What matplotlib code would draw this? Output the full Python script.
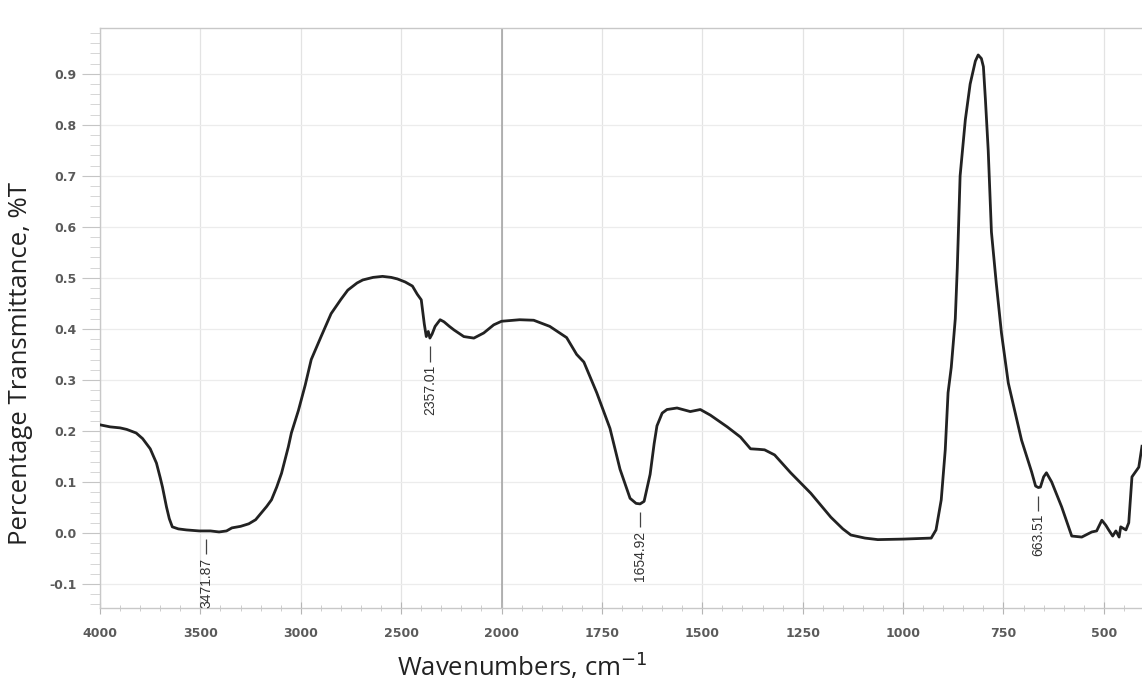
import numpy as np
import matplotlib
matplotlib.use("Agg")
import matplotlib.pyplot as plt

# FTIR spectrum (wavenumber in cm^-1, transmittance)
wavenumber = [4000, 3950, 3900, 3867, 3820, 3788, 3750, 3719, 3700, 3689, 3669, 3655, 3640,
              3610, 3570, 3506, 3450, 3407, 3370, 3343, 3300, 3259, 3225, 3195, 3170, 3146,
              3120, 3096, 3062, 3047, 3012, 2978, 2948, 2899, 2849, 2800, 2766, 2720, 2691,
              2640, 2593, 2550, 2519, 2480, 2444, 2420, 2400, 2385, 2375, 2365, 2357, 2346,
              2331, 2306, 2287, 2260, 2237, 2188, 2138, 2089, 2039, 2000, 1955, 1920, 1880,
              1838, 1813, 1795, 1763, 1730, 1705, 1680, 1665, 1655, 1645, 1630, 1620, 1613,
              1600, 1588, 1563, 1530, 1505, 1480, 1438, 1405, 1380, 1360, 1345, 1320, 1280,
              1230, 1180, 1150, 1130, 1095, 1063, 1000, 930, 918, 905, 895, 888, 880, 870,
              865, 858, 845, 833, 820, 813, 805, 800, 795, 788, 780, 768, 755, 738, 705, 680,
              670, 663, 658, 650, 643, 630, 605, 580, 555, 540, 530, 518, 505, 495, 488, 478,
              470, 462, 458, 445, 438, 430, 413, 405]
transmittance = [0.212, 0.208, 0.206, 0.203, 0.196, 0.185, 0.165, 0.137, 0.108, 0.090, 0.051,
                 0.028, 0.012, 0.008, 0.006, 0.004, 0.004, 0.002, 0.004, 0.010, 0.013, 0.018,
                 0.026, 0.040, 0.052, 0.065, 0.090, 0.117, 0.169, 0.196, 0.240, 0.290, 0.340,
                 0.385, 0.430, 0.458, 0.476, 0.490, 0.496, 0.501, 0.503, 0.501, 0.498, 0.492,
                 0.484, 0.468, 0.457, 0.410, 0.385, 0.395, 0.382, 0.390, 0.405, 0.418, 0.414,
                 0.405, 0.398, 0.385, 0.382, 0.392, 0.408, 0.415, 0.418, 0.417, 0.405, 0.383,
                 0.350, 0.335, 0.275, 0.205, 0.125, 0.068, 0.058, 0.057, 0.062, 0.115, 0.175,
                 0.210, 0.235, 0.242, 0.245, 0.238, 0.242, 0.231, 0.208, 0.188, 0.165, 0.164,
                 0.163, 0.153, 0.118, 0.078, 0.031, 0.008, -0.004, -0.010, -0.013, -0.012,
                 -0.010, 0.006, 0.065, 0.163, 0.275, 0.325, 0.420, 0.520, 0.700, 0.810, 0.880,
                 0.925, 0.937, 0.930, 0.914, 0.850, 0.750, 0.590, 0.490, 0.392, 0.294, 0.182,
                 0.120, 0.092, 0.089, 0.090, 0.110, 0.118, 0.100, 0.051, -0.006, -0.008,
                 -0.002, 0.002, 0.004, 0.025, 0.015, 0.006, -0.006, 0.004, -0.008, 0.012,
                 0.006, 0.020, 0.110, 0.129, 0.170]

peak_labels = [3471.87, 2357.01, 1654.92, 663.51]

x_major = [4000, 3500, 3000, 2500, 2000, 1750, 1500, 1250, 1000, 750, 500]
y_major = [-0.1, 0.0, 0.1, 0.2, 0.3, 0.4, 0.5, 0.6, 0.7, 0.8, 0.9]


# Wavenumber axis: compressed above 2000 cm^-1, doubled resolution below
def fwd(x):
    x = np.asarray(x, dtype=float)
    return np.where(x >= 2000, x, 2000 + (x - 2000) * 2.0)


def inv(u):
    u = np.asarray(u, dtype=float)
    return np.where(u >= 2000, u, 2000 + (u - 2000) / 2.0)


fig = plt.figure(figsize=(11.42, 6.93), dpi=100)
ax = fig.add_axes([0.0876, 0.1227, 0.9124, 0.837])
ax.set_xscale("function", functions=(fwd, inv))
ax.set_xlim(4000, 405)
ax.set_ylim(-0.147, 0.99)

# grid
for v in x_major:
    ax.axvline(v, color="#e3e3e3", lw=0.9, zorder=0)
ax.axvline(2000, color="#a0a0a0", lw=1.1, zorder=0.5)
for v in y_major:
    ax.axhline(v, color="#ececec", lw=0.9, zorder=0)

ax.plot(wavenumber, transmittance, color="#222222", lw=2.0, zorder=3)

wn_arr = np.array(wavenumber[::-1])
t_arr = np.array(transmittance[::-1])
for wn in peak_labels:
    yc = np.interp(wn, wn_arr, t_arr)
    ax.vlines(wn, yc - 0.016, yc - 0.046, color="#444444", lw=0.9, zorder=3)
    ax.text(wn, yc - 0.052, f"{wn:.2f}", rotation=90, ha="center", va="top",
            fontsize=10, family=["Liberation Sans Narrow", "Liberation Sans"],
            fontstretch="condensed", color="#333333", zorder=4)

ax.set_xticks(x_major)
ax.set_xticklabels([str(v) for v in x_major])
x_minor = [v for v in range(4000, 2000, -100) if v % 500] + \
          [v for v in range(2000, 400, -50) if v % 250]
ax.set_xticks(x_minor, minor=True)
ax.set_yticks(y_major)
ax.set_yticklabels([f"{v:.1f}" for v in y_major])
ax.set_yticks(np.arange(-0.14, 0.99, 0.02), minor=True)

for s in ["top", "left", "bottom"]:
    ax.spines[s].set_color("#c8c8c8")
    ax.spines[s].set_linewidth(1.0)
ax.spines["right"].set_visible(False)

ax.tick_params(axis="x", which="major", direction="inout", length=8, color="#b5b5b5",
               labelsize=9, labelcolor="#5a5a5a", pad=10)
ax.tick_params(axis="x", which="minor", direction="inout", length=5, color="#c5c5c5")
ax.tick_params(axis="y", which="major", direction="out", length=13, color="#c5c5c5",
               labelsize=9, labelcolor="#5a5a5a", pad=4)
ax.tick_params(axis="y", which="minor", direction="out", length=7, color="#d0d0d0")
for lab in ax.get_xticklabels() + ax.get_yticklabels():
    lab.set_fontweight("bold")

ax.set_xlabel("Wavenumbers, cm$^{-1}$", fontsize=18.5, family="Open Sans",
              color="#222222")
ax.set_ylabel("Percentage Transmittance, %T", fontsize=18.5, family="Open Sans",
              color="#222222")
ax.xaxis.set_label_coords(0.405, -0.074)
ax.yaxis.set_label_coords(-0.064, 0.422)

fig.savefig("out.png", dpi=100, facecolor="white")
